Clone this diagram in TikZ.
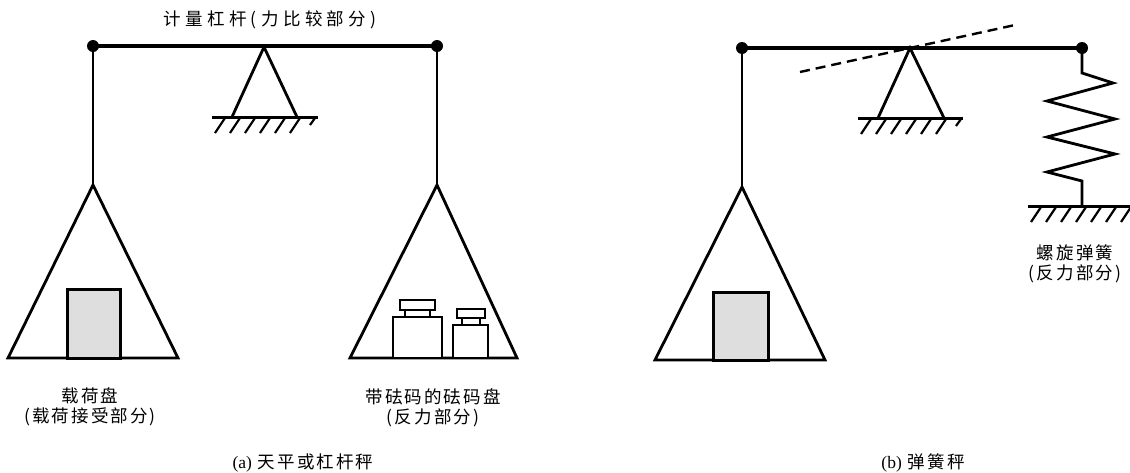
\documentclass[tikz,border=0pt]{standalone}
\usepackage{fontspec}
\setmainfont{Liberation Serif}
\newfontfamily\cjk[LetterSpace=12]{Noto Sans CJK SC}
\newfontfamily\cjkwide[LetterSpace=25]{Noto Sans CJK SC}
\usetikzlibrary{calc}

\begin{document}
\begin{tikzpicture}[
  x=1pt, y=-1pt,
  every node/.style={font=\cjk\fontsize{17.5}{20}\selectfont, inner sep=0pt},
  beam/.style={line width=3.6pt},
  bar/.style={line width=2.8pt, line join=miter},
  hinge/.style={circle, fill=black, minimum size=12pt, inner sep=0pt},
  ground/.style={line width=3pt},
  hatch/.style={line width=2.2pt},
  load/.style={draw, line width=3pt, fill=black!13},
  weightbox/.style={draw, line width=2.8pt, fill=white},
  tilt/.style={dash pattern=on 10pt off 6pt, line width=2.4pt},
]
\useasboundingbox (0,0) rectangle (1130,472);

%% ── (a) BALANCE / LEVER SCALE ─────────────────────────────────────────
\node[hinge] (lefta)  at (93,46)  {};
\node[hinge] (righta) at (437,46) {};
\draw[beam] (lefta.center) -- (righta.center);
\node[font=\cjkwide\fontsize{17.5}{20}\selectfont] (titlea) at (270,20) {计量杠杆(力比较部分)};

%% fulcrum
\coordinate (pivota) at (264,47);
\coordinate (fulla)  at (232,117);
\coordinate (fulra)  at (297,117);
\draw[bar] (fulla) -- (pivota) -- (fulra);
\coordinate (gnda) at (212,117);
\coordinate (gndb) at (318,117);
\draw[ground] (gnda) -- (gndb);
\foreach \i in {0,...,5}
  \draw[hatch] ($(gnda)+(13+15*\i,1)$) -- ++(-10,15);
\draw[hatch] ($(gnda)+(103,1)$) -- ++(-5,7);

%% load pan
\coordinate (lpantop) at (93,185);
\draw[bar] (lefta.center) -- (lpantop);
\draw[bar] (lpantop) -- (8,358) -- (178,358) -- cycle;
\node[load, minimum width=53pt, minimum height=69pt] (loada) at (93.5,323.5) {};

%% weight pan
\coordinate (rpantop) at (437,185);
\draw[bar] (righta.center) -- (rpantop);
\draw[bar] (rpantop) -- (350,358) -- (517,358) -- cycle;

%% weights
\node[weightbox, minimum width=49pt, minimum height=41pt] (bigbody) at (417.5,337.5) {};
\node[weightbox, minimum width=25pt, minimum height=7pt]  (bigneck) at (417.5,313.5) {};
\node[weightbox, minimum width=35pt, minimum height=10pt] (bigcap)  at (417.5,305)   {};
\node[weightbox, minimum width=35pt, minimum height=33pt] (smbody)  at (470.5,341.5) {};
\node[weightbox, minimum width=18pt, minimum height=7pt]  (smneck)  at (471,321.5)   {};
\node[weightbox, minimum width=28pt, minimum height=9pt]  (smcap)   at (471,313.5)   {};

\node[align=center] (lpanlbl) at (90,407)  {载荷盘\\(载荷接受部分)};
\node[align=center] (rpanlbl) at (433,408) {带砝码的砝码盘\\(反力部分)};
\node (capa) at (303,463) {{\rmfamily(a)} 天平或杠杆秤};

%% ── (b) SPRING SCALE ──────────────────────────────────────────────────
\node[hinge] (leftb)  at (742,48)  {};
\node[hinge] (rightb) at (1082,48) {};
\draw[beam] (leftb.center) -- (rightb.center);

%% fulcrum + tilted beam
\coordinate (pivotb) at (910,48);
\coordinate (fullb)  at (878,118);
\coordinate (fulrb)  at (944,118);
\draw[bar] (fullb) -- (pivotb) -- (fulrb);
\coordinate (gndc) at (858,118);
\coordinate (gndd) at (963,118);
\draw[ground] (gndc) -- (gndd);
\foreach \i in {0,...,5}
  \draw[hatch] ($(gndc)+(13+15*\i,1)$) -- ++(-10,15);
\draw[hatch] ($(gndc)+(103,1)$) -- ++(-5,7);
\coordinate (tiltl) at (800,72);
\coordinate (tiltr) at (1015,25);
\draw[tilt] (tiltl) -- (tiltr);

%% load pan
\coordinate (bpantop) at (742,187);
\draw[bar] (leftb.center) -- (bpantop);
\draw[bar] (bpantop) -- (655,360) -- (825,360) -- cycle;
\node[load, minimum width=55pt, minimum height=68pt] (loadb) at (740.5,326) {};

%% spring
\coordinate (sprbot) at (1082,206);
\draw[bar] (rightb.center) -- (1082,73) -- (1113,83) -- (1047,101)
  -- (1115,119) -- (1047,137) -- (1115,154) -- (1047,172)
  -- (1082,181) -- (sprbot);
\coordinate (gnde) at (1028,206);
\coordinate (gndf) at (1130,206);
\draw[ground] (gnde) -- (gndf);
\foreach \i in {0,...,6}
  \draw[hatch] ($(gnde)+(13+15*\i,1)$) -- ++(-10,15);

\node[align=center] (springlbl) at (1075,264) {螺旋弹簧\\(反力部分)};
\node (capb) at (923,463) {{\rmfamily(b)} 弹簧秤};

\end{tikzpicture}
\end{document}
